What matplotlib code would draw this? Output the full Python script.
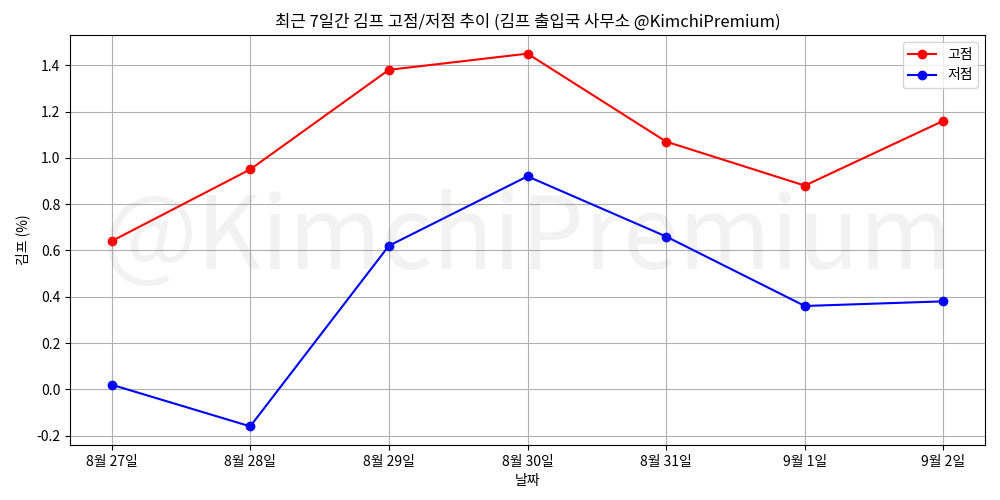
import matplotlib
matplotlib.use("Agg")
import matplotlib.pyplot as plt

plt.rcParams['font.family'] = ['Noto Sans CJK KR', 'DejaVu Sans']
plt.rcParams['axes.unicode_minus'] = False

dates = ["8월 27일", "8월 28일", "8월 29일", "8월 30일", "8월 31일", "9월 1일", "9월 2일"]
high = [0.64, 0.95, 1.38, 1.45, 1.07, 0.88, 1.16]
low = [0.02, -0.16, 0.62, 0.92, 0.66, 0.36, 0.38]

fig, ax = plt.subplots(figsize=(10, 5), dpi=100)
x = range(len(dates))
ax.plot(x, high, color='red', marker='o', label='고점')
ax.plot(x, low, color='blue', marker='o', label='저점')
ax.set_xticks(list(x))
ax.set_xticklabels(dates)
ax.set_title("최근 7일간 김프 고점/저점 추이 (김프 출입국 사무소 @KimchiPremium)")
ax.set_xlabel("날짜")
ax.set_ylabel("김프 (%)")
ax.grid(True)
ax.legend(loc='upper right')
ax.text(0.5, 0.5, "@KimchiPremium", transform=ax.transAxes, fontsize=72,
        color='gray', alpha=0.1, ha='center', va='center')
fig.subplots_adjust(left=0.07, right=0.985, top=0.93, bottom=0.11)
fig.savefig("out.png")
